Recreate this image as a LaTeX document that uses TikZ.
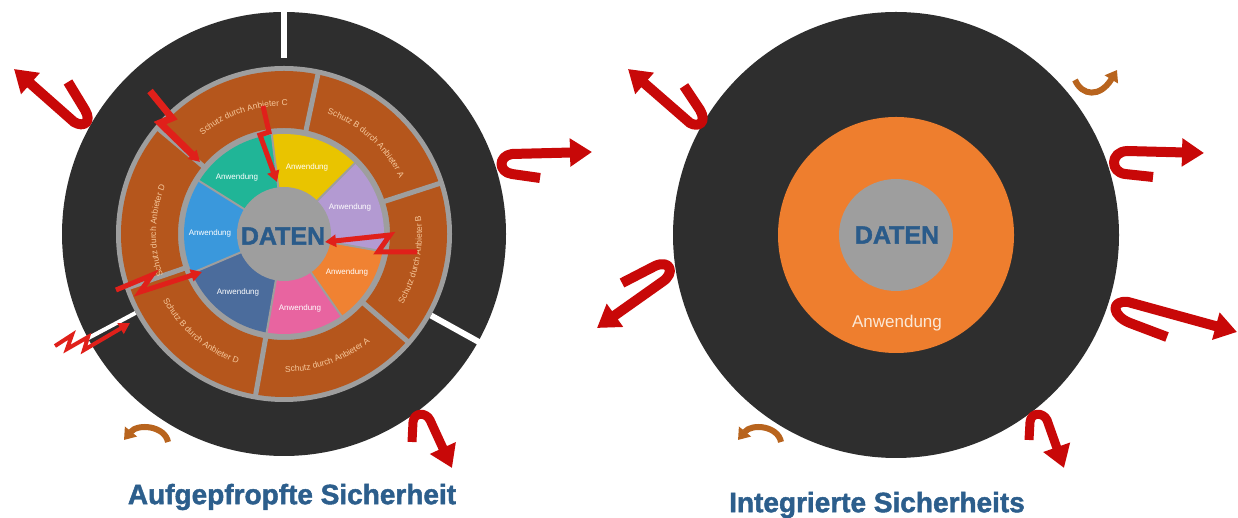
\documentclass[tikz,border=0pt]{standalone}
\usepackage{fontspec}
\setmainfont{Liberation Sans}
\newfontfamily\heavyfont{Liberation Sans}[BoldFeatures={FakeBold=1.6}]
\usetikzlibrary{arrows.meta,decorations.text}
\definecolor{ringdark}{HTML}{2E2E2E}
\definecolor{ringgray}{HTML}{9E9E9E}
\definecolor{shield}{HTML}{B5561C}
\definecolor{peach}{HTML}{F6C79A}
\definecolor{appteal}{HTML}{20B597}
\definecolor{appyellow}{HTML}{E9C400}
\definecolor{applilac}{HTML}{B39AD2}
\definecolor{apporange}{HTML}{F08232}
\definecolor{apppink}{HTML}{E864A0}
\definecolor{appsteel}{HTML}{4B6C9C}
\definecolor{appblue}{HTML}{3A98DC}
\definecolor{datblue}{HTML}{2A5B8A}
\definecolor{titleblue}{HTML}{2C5E8C}
\definecolor{arrred}{HTML}{C80808}
\definecolor{arrbrown}{HTML}{B8641E}
\definecolor{boltred}{HTML}{E0201A}
\definecolor{bigorange}{HTML}{EE7E2E}
\newcommand\brfmt{\color{peach}\fontsize{8.5}{10}\selectfont}
\tikzset{
 redarr/.style={draw=arrred, line width=10pt, line join=round, -{Triangle[width=27pt,length=22pt]}},
 brownarr/.style={draw=arrbrown, line width=6pt, -{Triangle[width=15pt,length=11pt]}},
 bolt/.style={draw=boltred, line width=5pt, line join=miter, miter limit=4, -{Triangle[width=12pt,length=11pt]}},
 applabel/.style={text=white, font=\fontsize{8}{9}\selectfont, inner sep=0pt},
 daten/.style={text=datblue, font=\heavyfont\bfseries\fontsize{25}{28}\selectfont, inner sep=0pt},
 titlelabel/.style={text=titleblue, font=\heavyfont\bfseries\fontsize{28}{32}\selectfont, inner sep=0pt},
 shieldtext/.style={decorate, decoration={text along path, text align=center, text={|\brfmt|#1}}},
 gapline/.style={draw=white, line width=6pt},
 sep/.style={draw=ringgray, line width=5pt},
 thinsep/.style={draw=ringgray, line width=2pt},
}
\begin{document}
\begin{tikzpicture}[x=1pt,y=1pt]
\useasboundingbox (0,0) rectangle (1238,518);
\fill[white] (0,0) rectangle (1238,518);

% ================= LEFT DIAGRAM =================
\coordinate (L) at (284,284);
\fill[ringdark] (L) circle[radius=222];
\draw[gapline] (L) ++(90:176) -- ++(90:50);
\draw[gapline] (L) ++(-29:168) -- ++(-29:60);
\draw[gapline, line width=4pt] (L) ++(208:168) -- ++(208:60);
\fill[ringgray] (L) circle[radius=168];
\fill[shield, even odd rule] (L) circle[radius=163] (L) circle[radius=106];
\foreach \a in {78,18,-41,-100,199,140} \draw[sep] (L) ++(\a:104) -- ++(\a:61);
% application wedges
\fill[appyellow] (L) -- ++(45:100) arc[start angle=45, end angle=97, radius=100] -- cycle;
\fill[appteal] (L) -- ++(97:100) arc[start angle=97, end angle=148, radius=100] -- cycle;
\fill[appblue] (L) -- ++(148:100) arc[start angle=148, end angle=203, radius=100] -- cycle;
\fill[appsteel] (L) -- ++(203:100) arc[start angle=203, end angle=260, radius=100] -- cycle;
\fill[apppink] (L) -- ++(260:100) arc[start angle=260, end angle=305, radius=100] -- cycle;
\fill[apporange] (L) -- ++(305:100) arc[start angle=305, end angle=350, radius=100] -- cycle;
\fill[applilac] (L) -- ++(350:100) arc[start angle=350, end angle=405, radius=100] -- cycle;
\foreach \a in {45,97,148,203,260,305,350} \draw[thinsep] (L) -- ++(\a:101);
\fill[ringgray] (L) circle[radius=47];
% shield texts
\path[shieldtext={Schutz durch Anbieter C}] (L) ++(140:128) arc[start angle=140, end angle=78, radius=128];
\path[shieldtext={Schutz B durch Anbieter A}] (L) ++(78:128) arc[start angle=78, end angle=18, radius=128];
\path[shieldtext={Schutz durch Anbieter B}] (L) ++(-41:138) arc[start angle=-41, end angle=18, radius=138];
\path[shieldtext={Schutz durch Anbieter A}] (L) ++(-100:138) arc[start angle=-100, end angle=-41, radius=138];
\path[shieldtext={Schutz B durch Anbieter D}] (L) ++(199:138) arc[start angle=199, end angle=260, radius=138];
\path[shieldtext={Schutz durch Anbieter D}] (L) ++(207:128) arc[start angle=207, end angle=150, radius=128];
% application labels
\node[applabel] (a1) at (237,341) {Anwendung};
\node[applabel] (a2) at (307,351) {Anwendung};
\node[applabel] (a3) at (350,311) {Anwendung};
\node[applabel] (a4) at (210,285) {Anwendung};
\node[applabel] (a5) at (347,246) {Anwendung};
\node[applabel] (a6) at (238,226) {Anwendung};
\node[applabel] (a7) at (300,210) {Anwendung};
\node[daten] (datL) at (283,282) {DATEN};
% lightning bolts
\draw[bolt, line width=7pt] (150,427) -- (172,400) -- (160,395) -- (200,356);
\draw[bolt] (263,412) -- (269,386) -- (260,383) -- (277,336);
\draw[bolt] (417,266) -- (378,266) -- (390,283) -- (325,276);
\draw[bolt] (116,228) -- (152,243) -- (140,226) -- (202,246);
\draw[bolt, line width=4pt] (55,172) -- (72,183) -- (67,169) -- (88,181) -- (84,168) -- (130,195);
% curved arrows
\draw[redarr] (68,436) -- (85,408) .. controls (92,396) and (84,390) .. (74,396) -- (14,449);
\draw[redarr] (540,340) -- (512,344) .. controls (498,346) and (498,362) .. (512,364) -- (592,366);
\draw[brownarr] (168,76) .. controls (165,92) and (138,95) .. (124,78);
\draw[redarr, line width=9pt] (412,76) -- (413,96) .. controls (414,106) and (426,106) .. (430,98) -- (452,50);
\node[titlelabel] (titleL) at (292,21) {Aufgepfropfte Sicherheit};

% ================= RIGHT DIAGRAM =================
\coordinate (R) at (896,283);
\fill[ringdark] (R) circle[radius=223];
\fill[bigorange] (R) circle[radius=118];
\fill[ringgray] (R) ellipse[x radius=57, y radius=56];
\node[daten] (datR) at (897,283) {DATEN};
\node[text=peach!40!white, font=\fontsize{17}{20}\selectfont, inner sep=0pt] (anwR) at (897,195) {Anwendung};
\draw[redarr] (684,432) -- (700,408) .. controls (707,396) and (699,390) .. (690,395) -- (628,449);
\draw[brownarr] (1075,438) .. controls (1082,422) and (1100,420) .. (1117,448);
\draw[redarr] (1153,341) -- (1125,344) .. controls (1110,346) and (1110,366) .. (1127,367) -- (1204,365);
\draw[redarr] (622,235) -- (655,252) .. controls (670,259) and (676,245) .. (662,236) -- (597,190);
\draw[redarr] (1167,181) -- (1130,195) .. controls (1112,202) and (1110,218) .. (1128,216) -- (1237,186);
\draw[brownarr] (781,76) .. controls (778,92) and (752,95) .. (738,78);
\draw[redarr, line width=9pt] (1029,78) -- (1030,96) .. controls (1031,106) and (1043,106) .. (1047,98) -- (1064,50);
\node[titlelabel] (titleR) at (877,13) {Integrierte Sicherheits};
\end{tikzpicture}
\end{document}
